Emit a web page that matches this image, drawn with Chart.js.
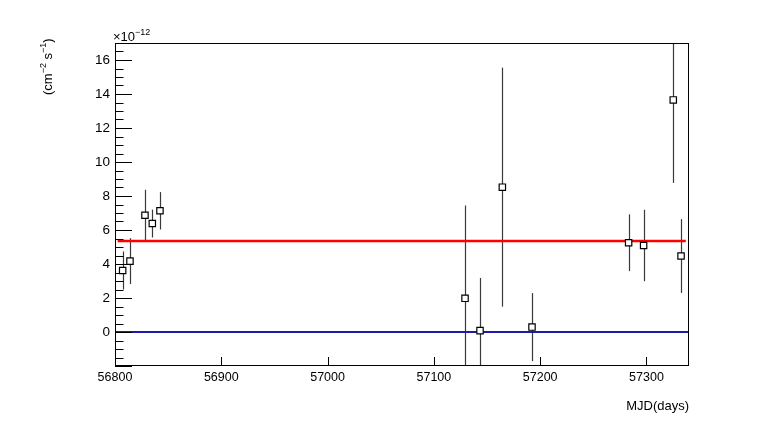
<!DOCTYPE html>
<html>
<head>
<meta charset="utf-8">
<script src="https://cdn.jsdelivr.net/npm/chart.js@4"></script>
<style>
  html, body { margin: 0; padding: 0; background: #fff; }
  canvas { display: block; }
</style>
</head>
<body>
<canvas id="chart" width="766" height="431"></canvas>
<script>
// light curve points (flux in units of 1e-12 cm^-2 s^-1)
const mjd = [56807.2, 56814.1, 56828.2, 56835.1, 56842.3, 57129.3, 57143.4, 57164.4, 57192.3, 57283.2, 57297.3, 57325.2, 57332.5];
const flux = [3.62, 4.17, 6.87, 6.38, 7.13, 1.98, 0.08, 8.52, 0.29, 5.25, 5.09, 13.65, 4.47];
const fluxErr = [1.12, 1.35, 1.5, 0.82, 1.1, 5.46, 3.1, 7.03, 2.0, 1.67, 2.1, 4.88, 2.17];

// constant fit and zero level
const fitX = [56802.5, 57337];
const fitY = [5.35, 5.35];
const zeroX = [56800, 57340];
const zeroY = [0, 0];

const xTicks = [56800, 56900, 57000, 57100, 57200, 57300];
const yTicks = [0, 2, 4, 6, 8, 10, 12, 14, 16];
const yMinorStep = 0.5;

const FONT = 'Liberation Sans, Arial, Helvetica, sans-serif';

const frame = {
  id: 'frame',
  beforeDatasetsDraw(chart) {
    // error bars
    const { ctx, chartArea: a, scales: { x, y } } = chart;
    ctx.save();
    ctx.beginPath();
    ctx.rect(a.left, a.top, a.right - a.left, a.bottom - a.top);
    ctx.clip();
    ctx.strokeStyle = '#3a3a3a';
    ctx.lineWidth = 1.2;
    mjd.forEach((m, i) => {
      const px = Math.round(x.getPixelForValue(m)) + 0.5;
      ctx.beginPath();
      ctx.moveTo(px, y.getPixelForValue(flux[i] + fluxErr[i]));
      ctx.lineTo(px, y.getPixelForValue(flux[i] - fluxErr[i]));
      ctx.stroke();
    });
    ctx.restore();
  },
  afterDraw(chart) {
    const { ctx, chartArea: a, scales: { x, y } } = chart;
    ctx.save();
    ctx.strokeStyle = '#000';
    ctx.lineWidth = 1;
    ctx.strokeRect(a.left + 0.5, a.top + 0.5, a.right - a.left - 1, a.bottom - a.top - 1);

    // y ticks, major and minor
    ctx.beginPath();
    for (let v = y.min; v <= y.max + 1e-9; v += yMinorStep) {
      const py = Math.round(y.getPixelForValue(v)) + 0.5;
      const major = Math.abs(v / 2 - Math.round(v / 2)) < 1e-9;
      ctx.moveTo(a.left, py);
      ctx.lineTo(a.left + (major ? 17 : 8.5), py);
    }
    // x ticks
    xTicks.forEach(t => {
      const px = Math.round(x.getPixelForValue(t)) + 0.5;
      ctx.moveTo(px, a.bottom);
      ctx.lineTo(px, a.bottom - 9);
    });
    ctx.stroke();

    ctx.fillStyle = '#000';
    // exponent label
    ctx.textBaseline = 'alphabetic';
    ctx.textAlign = 'left';
    ctx.font = '13px ' + FONT;
    ctx.fillText('\u00d710', a.left - 2, a.top - 2);
    const w = ctx.measureText('\u00d710').width;
    ctx.font = '9px ' + FONT;
    ctx.fillText('\u221212', a.left - 2 + w, a.top - 8);

    // x title
    ctx.font = '13px ' + FONT;
    ctx.textAlign = 'right';
    ctx.fillText('MJD(days)', a.right, 410);

    // y title, rotated
    ctx.translate(52, 95);
    ctx.rotate(-Math.PI / 2);
    ctx.textAlign = 'left';
    let cx = 0;
    const part = (t, size, dy) => {
      ctx.font = size + 'px ' + FONT;
      ctx.fillText(t, cx, dy);
      cx += ctx.measureText(t).width;
    };
    part('(cm', 13, 0);
    part('\u22122', 9, -6);
    part(' s', 13, 0);
    part('\u22121', 9, -6);
    part(')', 13, 0);
    ctx.restore();
  }
};

new Chart(document.getElementById('chart'), {
  type: 'scatter',
  data: {
    datasets: [
      {
        label: 'flux',
        data: mjd.map((m, i) => ({ x: m, y: flux[i] })),
        pointStyle: 'rect',
        pointRadius: 4.5,
        pointBorderWidth: 1.2,
        pointBorderColor: '#000',
        pointBackgroundColor: '#fff',
        showLine: false
      },
      {
        label: 'fit',
        data: fitX.map((v, i) => ({ x: v, y: fitY[i] })),
        showLine: true,
        borderColor: '#ff0000',
        borderWidth: 2.5,
        pointRadius: 0
      },
      {
        label: 'zero',
        data: zeroX.map((v, i) => ({ x: v, y: zeroY[i] })),
        showLine: true,
        borderColor: '#1c1ca8',
        borderWidth: 2,
        pointRadius: 0
      }
    ]
  },
  options: {
    responsive: false,
    animation: false,
    layout: { padding: { left: 0, top: 43, right: 77, bottom: 0 } },
    plugins: { legend: { display: false }, tooltip: { enabled: false } },
    scales: {
      x: {
        type: 'linear',
        min: 56800,
        max: 57340,
        afterFit: s => { s.height = 65; },
        afterBuildTicks: s => { s.ticks = xTicks.map(v => ({ value: v })); },
        grid: { display: false, drawTicks: false },
        border: { display: false },
        ticks: {
          padding: 4,
          maxRotation: 0,
          autoSkip: false,
          color: '#000',
          font: { family: FONT, size: 12.5 },
          callback: v => String(v)
        }
      },
      y: {
        type: 'linear',
        min: -2,
        max: 17,
        afterFit: s => { s.width = 115; },
        afterBuildTicks: s => { s.ticks = yTicks.map(v => ({ value: v })); },
        grid: { display: false, drawTicks: false },
        border: { display: false },
        ticks: {
          padding: 5,
          autoSkip: false,
          color: '#000',
          font: { family: FONT, size: 13.5 },
          callback: v => String(v)
        }
      }
    }
  },
  plugins: [frame]
});
</script>
</body>
</html>
